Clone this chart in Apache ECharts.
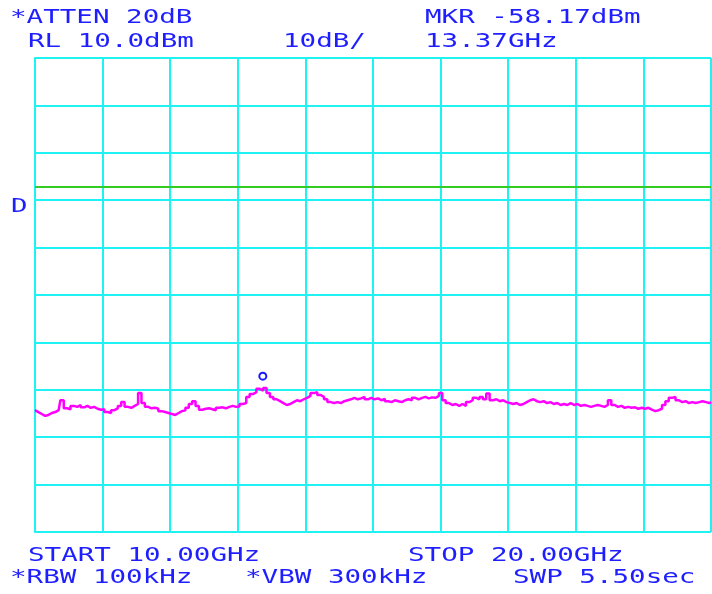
<!DOCTYPE html>
<html>
<head>
<meta charset="utf-8">
<script src="https://cdn.jsdelivr.net/npm/echarts@6/dist/echarts.min.js"></script>
<style>
  html, body { margin: 0; padding: 0; background: #fff; }
  #chart { width: 712px; height: 594px; }
</style>
</head>
<body>
<div id="chart"></div>
<script>
// sweep settings
const startGHz = 10;
const stopGHz = 20;
const refLevel = 10;      // RL 10.0 dBm
const dbPerDiv = 10;
const displayLine = -17.2;
const marker = [13.37, -58.17];

// trace, 201 sweep points from start to stop (dBm)
const trace = [
  -64.3, -64.7, -65.1, -65.5, -65.3, -64.9, -64.7, -64.3, -62.2, -63.9,
  -64.1, -63.4, -63.6, -63.2, -63.7, -63.4, -63.8, -63.6, -64.0, -64.2,
  -64.1, -64.7, -64.9, -64.3, -63.9, -63.4, -62.6, -63.6, -63.8, -63.4,
  -63.0, -60.7, -62.8, -63.6, -63.9, -63.8, -64.0, -64.5, -64.7, -64.9,
  -65.1, -65.3, -64.9, -64.5, -64.3, -63.8, -63.0, -62.4, -63.4, -64.2,
  -64.0, -63.9, -64.1, -64.3, -63.8, -63.7, -63.9, -63.6, -63.4, -63.6,
  -63.5, -63.0, -62.8, -61.5, -60.9, -60.5, -59.8, -60.2, -59.6, -60.7,
  -61.5, -62.0, -62.4, -62.8, -63.2, -63.0, -62.6, -62.2, -62.4, -62.0,
  -61.7, -61.3, -60.7, -60.5, -61.1, -61.5, -62.0, -62.6, -62.8, -62.6,
  -62.8, -62.4, -62.2, -62.0, -61.7, -62.0, -61.8, -61.5, -62.0, -61.7,
  -62.0, -61.8, -62.2, -61.9, -62.4, -62.6, -62.2, -62.4, -62.6, -62.2,
  -62.0, -62.2, -61.7, -62.0, -61.7, -61.5, -61.8, -61.6, -61.7, -61.3,
  -60.7, -62.2, -62.8, -63.2, -63.0, -63.4, -63.0, -63.4, -62.6, -62.2,
  -61.7, -62.0, -61.5, -62.0, -60.8, -62.2, -62.0, -62.4, -62.2, -62.6,
  -62.8, -63.0, -62.8, -63.2, -63.0, -62.6, -62.2, -62.0, -62.4, -62.6,
  -62.4, -62.8, -62.6, -63.0, -62.8, -63.2, -63.0, -63.2, -62.8, -63.2,
  -63.0, -63.4, -63.2, -63.4, -63.6, -63.4, -63.2, -63.4, -63.6, -63.2,
  -62.2, -63.2, -63.6, -63.4, -63.8, -63.6, -63.8, -63.7, -64.0, -63.8,
  -64.0, -63.8, -64.2, -64.5, -64.3, -64.0, -63.2, -62.4, -61.7, -61.5,
  -62.2, -62.6, -62.4, -62.8, -62.6, -62.8, -62.6, -62.4, -62.6, -62.8,
  -62.6
];

// annotation texts: [text, x, y]
const labels = [
  ['*ATTEN 20dB', 10, 9],
  ['MKR -58.17dBm', 425, 9],
  ['RL 10.0dBm', 28, 33],
  ['10dB/', 283, 33],
  ['13.37GHz', 425, 33],
  ['D', 11, 198],
  ['START 10.00GHz', 28, 547],
  ['STOP 20.00GHz', 408, 547],
  ['*RBW 100kHz', 10, 569],
  ['*VBW 300kHz', 245, 569],
  ['SWP 5.50sec', 513, 569]
];

const textBlue = '#1e1eff';
const gridCyan = '#1ff2f2';

const step = (stopGHz - startGHz) / (trace.length - 1);
const points = trace.map((v, i) => [startGHz + i * step, v]);

const chart = echarts.init(document.getElementById('chart'));

chart.setOption({
  backgroundColor: '#ffffff',
  animation: false,
  grid: { left: 35, right: 1, top: 58, bottom: 62 },
  xAxis: {
    type: 'value',
    min: startGHz,
    max: stopGHz,
    interval: 1,
    axisLine: { show: true, lineStyle: { color: gridCyan, width: 2 } },
    axisTick: { show: false },
    axisLabel: { show: false },
    splitLine: { show: true, lineStyle: { color: gridCyan, width: 2 } }
  },
  yAxis: {
    type: 'value',
    min: refLevel - 10 * dbPerDiv,
    max: refLevel,
    interval: dbPerDiv,
    axisLine: { show: true, lineStyle: { color: gridCyan, width: 2 } },
    axisTick: { show: false },
    axisLabel: { show: false },
    splitLine: { show: true, lineStyle: { color: gridCyan, width: 2 } }
  },
  graphic: labels.map(([t, x, y]) => ({
    type: 'text',
    x: x,
    y: y,
    scaleX: 1.45,
    style: {
      text: t,
      fill: textBlue,
      font: '19px "DejaVu Sans Mono"',
      textVerticalAlign: 'top'
    }
  })),
  series: [{
    type: 'line',
    data: points,
    showSymbol: false,
    step: 'middle',
    lineStyle: { color: '#ff00ff', width: 2.5 },
    markLine: {
      silent: true,
      symbol: 'none',
      label: { show: false },
      lineStyle: { color: '#33cc22', width: 2, type: 'solid' },
      data: [{ yAxis: displayLine }]
    },
    markPoint: {
      symbol: 'circle',
      symbolSize: 7,
      symbolOffset: [0, -5],
      label: { show: false },
      itemStyle: { color: '#ffffff', borderColor: '#1a1aff', borderWidth: 2 },
      data: [{ coord: marker }]
    }
  }]
});
</script>
</body>
</html>
